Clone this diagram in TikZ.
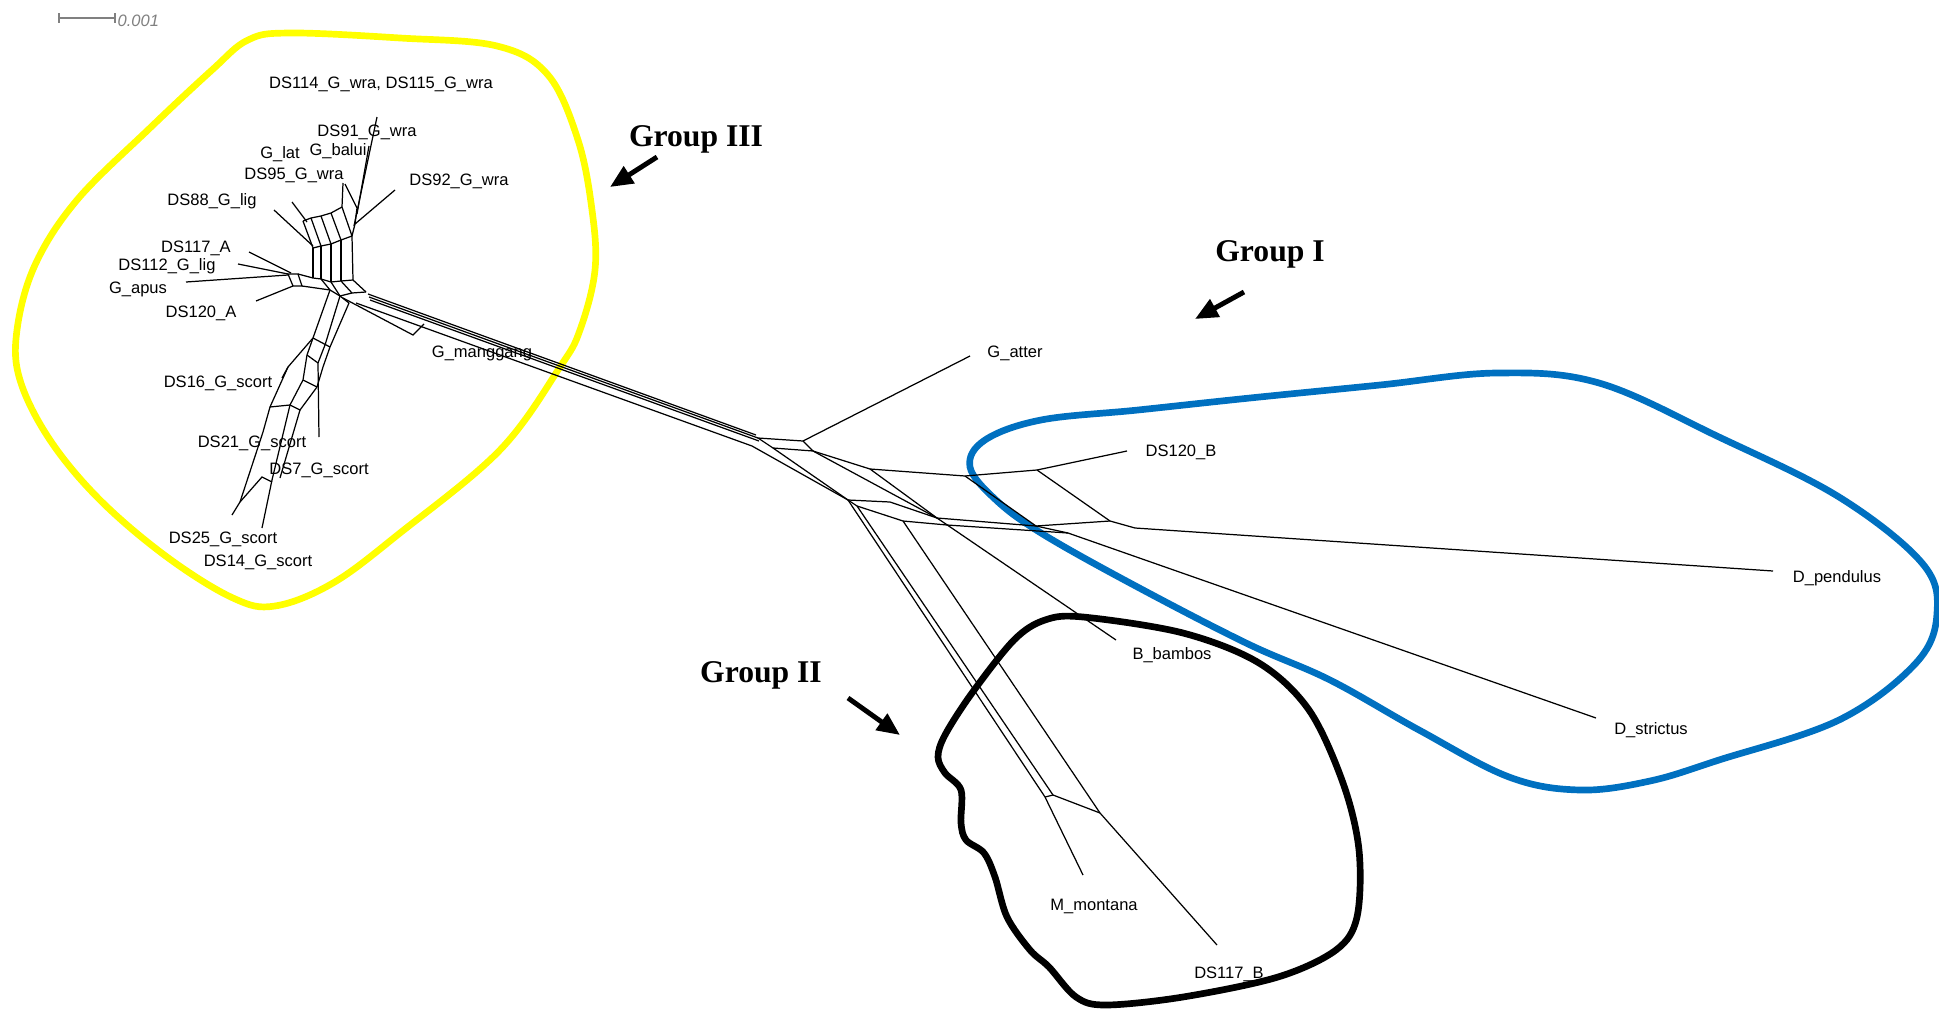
\documentclass[tikz,border=0pt]{standalone}
\usepackage{fontspec}
\setmainfont{Liberation Serif}
\newfontfamily\labfont{Liberation Sans}
\usetikzlibrary{arrows.meta}
\definecolor{grpyellow}{RGB}{255,255,0}
\definecolor{grpblue}{RGB}{0,112,192}
\definecolor{bargray}{RGB}{128,128,128}

\begin{document}
\begin{tikzpicture}[x=0.01cm,y=-0.01cm,
    net/.style={line width=0.35pt},
    lab/.style={font=\labfont\fontsize{4.7}{5}\selectfont, inner sep=0pt, anchor=base},
    grp/.style={font=\bfseries\fontsize{9}{10}\selectfont, inner sep=0pt, anchor=base},
    grparrow/.style={line width=1.4pt, -{Triangle[length=6.5pt,width=5.5pt]}},
    grploop/.style={line width=1.9pt}]
    \useasboundingbox (0,0) rectangle (1939,1012);

    % scale bar
    \draw[bargray, line width=0.4pt] (59,18) -- (115,18);
    \draw[bargray, line width=0.4pt] (59,13) -- (59,23);
    \draw[bargray, line width=0.4pt] (115,13) -- (115,23);
    \node[lab, bargray, anchor=base west, font=\labfont\itshape\fontsize{4.7}{5}\selectfont] (scale) at (117,27) {0.001};

    % group outlines
    \draw[grploop, grpyellow] plot[smooth cycle, tension=0.6] coordinates {
        (290,33) (400,38) (497,46) (548,75) (578,140) (592,210) (595,270) (580,330)
        (560,367) (500,450) (400,533) (333,583) (275,606) (233,598) (167,557)
        (100,500) (50,440) (20,380) (17,330) (35,265) (77,200) (150,128) (212,70) (248,40)};
    \draw[grploop, grpblue] plot[smooth cycle, tension=0.6] coordinates {
        (970,467) (996,500) (1041,533) (1130,583) (1246,643) (1330,680) (1419,730)
        (1509,777) (1580,790) (1650,781) (1719,760) (1839,720) (1916,663) (1937,613)
        (1922,563) (1839,497) (1719,437) (1599,383) (1497,373) (1380,385) (1250,398)
        (1138,410) (1041,420) (985,440)};
    \draw[grploop, black] plot[smooth cycle, tension=0.55] coordinates {
        (1083,617) (1183,633) (1259,663) (1309,710) (1343,783) (1359,850) (1357,917)
        (1336,950) (1278,977) (1183,997) (1106,1005) (1076,997) (1049,967) (1030,950)
        (1007,917) (995,877) (984,853) (966,840) (961,823) (961,790) (945,773)
        (938,757) (945,735) (972,693) (1014,640) (1045,620)};

    % ---- group III cluster ----
    % upper fan
    \draw[net] (377,117) -- (354,226);
    \draw[net] (369,146) -- (357,214);
    \draw[net] (395,190) -- (355,224);
    \draw[net] (343,183) -- (342,207);
    \draw[net] (345,184) -- (357,208) -- (355,224) -- (352,236);
    \draw[net] (292,202) -- (307,222);
    \draw[net] (274,210) -- (313,246);
    \draw[net] (303,221) -- (311,218) -- (321,216) -- (331,213) -- (342,207);
    \draw[net] (313,248) -- (321,246) -- (331,244) -- (341,240) -- (352,236);
    \draw[net] (303,221) -- (313,248);
    \draw[net] (311,218) -- (321,246);
    \draw[net] (321,216) -- (331,244);
    \draw[net] (331,213) -- (341,240);
    \draw[net] (342,207) -- (352,236);
    \draw[net] (313,248) -- (313,278);
    \draw[net] (321,246) -- (321,279);
    \draw[net] (331,244) -- (331,282);
    \draw[net] (341,240) -- (341,281);
    \draw[net] (352,236) -- (353,280);
    \draw[net] (313,278) -- (321,279) -- (331,282) -- (341,281) -- (353,280);
    % knot towards trunk
    \draw[net] (321,279) -- (330,290);
    \draw[net] (331,282) -- (340,296);
    \draw[net] (341,281) -- (352,293);
    \draw[net] (353,280) -- (366,292);
    \draw[net] (323,289) -- (330,290) -- (340,296) -- (352,293) -- (366,292);
    \draw[net] (340,296) -- (349,303);
    % left leaves
    \draw[net] (249,252) -- (291,273);
    \draw[net] (238,264) -- (288,274);
    \draw[net] (186,282) -- (288,275);
    \draw[net] (256,301) -- (293,286);
    \draw[net] (288,274) -- (298,274) -- (302,286) -- (293,286) -- cycle;
    \draw[net] (298,274) -- (313,278);
    \draw[net] (302,286) -- (323,289);
    % scort branch
    \draw[net] (330,290) -- (313,338) -- (288,367) -- (270,407) -- (263,432) -- (240,502) -- (232,515);
    \draw[net] (340,296) -- (325,345);
    \draw[net] (349,303) -- (330,347) -- (323,367) -- (317,387);
    \draw[net] (313,338) -- (330,347);
    \draw[net] (313,338) -- (307,355) -- (303,380) -- (290,405) -- (272,480) -- (262,528);
    \draw[net] (303,380) -- (317,387);
    \draw[net] (288,367) -- (282,378);
    \draw[net] (290,405) -- (300,410) -- (317,387);
    \draw[net] (300,410) -- (280,478);
    \draw[net] (240,502) -- (262,477) -- (272,482);
    \draw[net] (325,345) -- (318,363) -- (319,437);
    \draw[net] (307,355) -- (318,363);
    \draw[net] (270,407) -- (290,405);

    % ---- trunk ----
    \draw[net] (368,294) -- (756,435);
    \draw[net] (369,297) -- (758,438);
    \draw[net] (370,300) -- (759,441);
    \draw[net] (356,303) -- (752,446) -- (848,500);
    \draw[net] (343,298) -- (413,335) -- (424,324);

    % ---- central splits ----
    \coordinate (A) at (758,438);
    \coordinate (B) at (803,441);
    \coordinate (C) at (813,451);
    \coordinate (D) at (773,448);
    \coordinate (E) at (848,500);
    \coordinate (E2) at (857,506);
    \coordinate (F) at (890,502);
    \coordinate (G) at (903,521);
    \coordinate (J) at (870,469);
    \coordinate (K) at (937,518);
    \coordinate (K2) at (947,525);
    \coordinate (M) at (965,476);
    \coordinate (N) at (1037,470);
    \coordinate (P) at (1110,521);
    \coordinate (Q) at (1036,526);
    \coordinate (R) at (1135,528);
    \coordinate (U) at (1068,533);
    \coordinate (Wl) at (1045,797);
    \coordinate (Wr) at (1053,795);
    \coordinate (X) at (1100,813);
    % leaf ends
    \coordinate (atter) at (970,356);
    \coordinate (ds120b) at (1127,451);
    \coordinate (pend) at (1773,571);
    \coordinate (strict) at (1596,718);
    \coordinate (bamb) at (1116,640);
    \coordinate (mont) at (1083,875);
    \coordinate (ds117b) at (1217,945);

    \draw[net] (A) -- (B) -- (C) -- (D) -- cycle;
    \draw[net] (B) -- (atter);
    \draw[net] (C) -- (J) -- (M) -- (N) -- (ds120b);
    \draw[net] (C) -- (K);
    \draw[net] (J) -- (K);
    \draw[net] (D) -- (E);
    \draw[net] (E) -- (F) -- (K);
    \draw[net] (E2) -- (G) -- (K2);
    \draw[net] (E) -- (E2);
    \draw[net] (M) -- (Q);
    \draw[net] (N) -- (P);
    \draw[net] (K) -- (Q) -- (P) -- (R) -- (pend);
    \draw[net] (K2) -- (U) -- (strict);
    \draw[net] (Q) -- (U);
    \draw[net] (K) -- (bamb);
    \draw[net] (E) -- (Wl) -- (mont);
    \draw[net] (E2) -- (Wr);
    \draw[net] (Wl) -- (Wr) -- (X);
    \draw[net] (G) -- (X) -- (ds117b);

    % ---- taxon labels ----
    \node[lab] (n114) at (381,88) {DS114\_G\_wra, DS115\_G\_wra};
    \node[lab] (n91) at (367,136) {DS91\_G\_wra};
    \node[lab] (nbal) at (338,155) {G\_balui};
    \node[lab] (nlat) at (280,158) {G\_lat};
    \node[lab] (n95) at (294,179) {DS95\_G\_wra};
    \node[lab] (n92) at (459,185) {DS92\_G\_wra};
    \node[lab] (n88) at (212,205) {DS88\_G\_lig};
    \node[lab] (n117a) at (196,252) {DS117\_A};
    \node[lab] (n112) at (167,270) {DS112\_G\_lig};
    \node[lab] (napus) at (138,293) {G\_apus};
    \node[lab] (n120a) at (201,317) {DS120\_A};
    \node[lab] (nmang) at (482,357) {G\_manggang};
    \node[lab] (n16) at (218,387) {DS16\_G\_scort};
    \node[lab] (n21) at (252,447) {DS21\_G\_scort};
    \node[lab] (n7) at (319,474) {DS7\_G\_scort};
    \node[lab] (n25) at (223,543) {DS25\_G\_scort};
    \node[lab] (n14) at (258,566) {DS14\_G\_scort};
    \node[lab] (natter) at (1015,357) {G\_atter};
    \node[lab] (n120b) at (1181,456) {DS120\_B};
    \node[lab] (npend) at (1837,582) {D\_pendulus};
    \node[lab] (nstrict) at (1651,734) {D\_strictus};
    \node[lab] (nbamb) at (1172,659) {B\_bambos};
    \node[lab] (nmont) at (1094,910) {M\_montana};
    \node[lab] (n117b) at (1229,978) {DS117\_B};

    % ---- group names and arrows ----
    \node[grp] (g3) at (696,146) {Group III};
    \node[grp] (g1) at (1270,261) {Group I};
    \node[grp] (g2) at (761,682) {Group II};
    \coordinate (g3tail) at (657,157);
    \coordinate (g3tip) at (610,187);
    \coordinate (g1tail) at (1244,292);
    \coordinate (g1tip) at (1195,319);
    \coordinate (g2tail) at (848,698);
    \coordinate (g2tip) at (900,735);
    \draw[grparrow] (g3tail) -- (g3tip);
    \draw[grparrow] (g1tail) -- (g1tip);
    \draw[grparrow] (g2tail) -- (g2tip);
\end{tikzpicture}
\end{document}
